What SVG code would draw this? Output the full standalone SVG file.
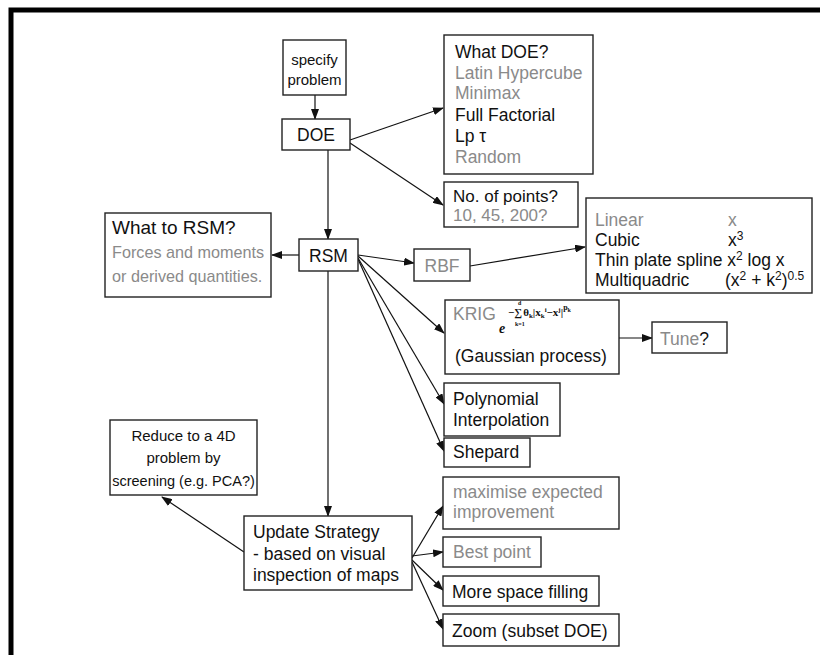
<svg xmlns="http://www.w3.org/2000/svg" width="820" height="655" viewBox="0 0 820 655">
<defs>
<marker id="ah" markerWidth="11" markerHeight="8" refX="10" refY="4" orient="auto" markerUnits="userSpaceOnUse">
<path d="M0,0 L11,4 L0,8 z" fill="#111"/>
</marker>
<style>
.box{fill:#fff;stroke:#222;stroke-width:1.4}
.t{font-family:"Liberation Sans",Arial,sans-serif;font-size:17.5px;fill:#111}
.s{font-size:15px}
.g{fill:#8a8a8a}
.k{fill:#111}
.c{text-anchor:middle}
.sup{font-size:12px}
.m{font-family:"Liberation Serif","Times New Roman",serif;font-weight:bold;fill:#111}
.ln{fill:none;stroke:#111;stroke-width:1.2;marker-end:url(#ah)}
</style>
</defs>
<rect width="820" height="655" fill="#fff"/>
<path d="M11,655 V10 H820" fill="none" stroke="#000" stroke-width="5"/>

<g id="connectors">
<path class="ln" d="M315,95 V119"/>
<path class="ln" d="M350,140 L443,108"/>
<path class="ln" d="M350,143 L443,205"/>
<path class="ln" d="M328,150 V239"/>
<path class="ln" d="M299,255 H272"/>
<path class="ln" d="M358,255 L414,263"/>
<path class="ln" d="M470,266 L585,247"/>
<path class="ln" d="M358,256 L444,333"/>
<path class="ln" d="M358,258 L444,404"/>
<path class="ln" d="M358,259 L444,451"/>
<path class="ln" d="M619,338 H652"/>
<path class="ln" d="M328,271 V516"/>
<path class="ln" d="M244,552 L162,497"/>
<path class="ln" d="M412,558 L443,506"/>
<path class="ln" d="M412,556 L443,552"/>
<path class="ln" d="M412,560 L443,590"/>
<path class="ln" d="M412,562 L443,629"/>
</g>

<g id="specify">
<rect class="box" x="283" y="40" width="63" height="55"/>
<text class="t s c" x="314.5" y="65">specify</text>
<text class="t s c" x="314.5" y="85">problem</text>
</g>

<g id="doe">
<rect class="box" x="282" y="119" width="68" height="31"/>
<text class="t c" x="316" y="141">DOE</text>
</g>

<g id="whatdoe">
<rect class="box" x="444" y="35" width="149" height="139"/>
<text class="t" x="455" y="58">What DOE?</text>
<text class="t g" x="455" y="79">Latin Hypercube</text>
<text class="t g" x="455" y="99">Minimax</text>
<text class="t" x="455" y="121">Full Factorial</text>
<text class="t" x="455" y="142">Lp τ</text>
<text class="t g" x="455" y="163">Random</text>
</g>

<g id="npoints">
<rect class="box" x="444" y="182" width="134" height="45"/>
<text class="t" x="453" y="202" style="font-size:17px">No. of points?</text>
<text class="t g" x="453" y="221" style="font-size:17px">10, 45, 200?</text>
</g>

<g id="whatrsm">
<rect class="box" x="105" y="213" width="166" height="84"/>
<text class="t" x="112" y="234" style="font-size:19px">What to RSM?</text>
<text class="t g" x="112" y="258" style="font-size:16.2px">Forces and moments</text>
<text class="t g" x="112" y="282" style="font-size:16.2px">or derived quantities.</text>
</g>

<g id="rsm">
<rect class="box" x="299" y="239" width="59" height="32"/>
<text class="t c" x="328.5" y="262">RSM</text>
</g>

<g id="rbf">
<rect class="box" x="414" y="249" width="56" height="32"/>
<text class="t g c" x="442" y="272">RBF</text>
</g>

<g id="basis">
<rect class="box" x="586" y="198" width="226" height="95"/>
<text class="t g" x="595" y="226">Linear</text>
<text class="t g" x="728" y="226">x</text>
<text class="t" x="595" y="246">Cubic</text>
<text class="t" x="728" y="246">x<tspan class="sup" dy="-6">3</tspan></text>
<text class="t" x="595" y="266">Thin plate spline x<tspan class="sup" dy="-6">2</tspan><tspan dy="6"> log x</tspan></text>
<text class="t" x="595" y="286">Multiquadric</text>
<text class="t" x="725" y="286">(x<tspan class="sup" dy="-6">2</tspan><tspan dy="6"> + k</tspan><tspan class="sup" dy="-6">2</tspan><tspan dy="6">)</tspan><tspan class="sup" dy="-6">0.5</tspan></text>
</g>

<g id="krig">
<rect class="box" x="445" y="300" width="174" height="74"/>
<text class="t g" x="453" y="320">KRIG</text>
<text class="m" x="499" y="333" style="font-size:14px;font-style:italic">e</text>
<text class="m" style="font-size:11px"><tspan x="508" y="316">−∑</tspan><tspan dx="1">θ</tspan><tspan dy="2" style="font-size:7px">k</tspan><tspan dy="-2">|x</tspan><tspan dy="2" style="font-size:7px">k</tspan><tspan dy="-6" style="font-size:7px">i</tspan><tspan dy="4">−x</tspan><tspan dy="-4" style="font-size:7px">j</tspan><tspan dy="4">|</tspan><tspan dy="-6" style="font-size:8px">p</tspan><tspan dy="2" style="font-size:6px">k</tspan></text>
<text class="m" x="515" y="326" style="font-size:6px">k=1</text>
<text class="m" x="518" y="305" style="font-size:6px">d</text>
<text class="t" x="455" y="362">(Gaussian process)</text>
</g>

<g id="tune">
<rect class="box" x="652" y="322" width="75" height="31"/>
<text class="t" x="660" y="345"><tspan class="g">Tune</tspan><tspan class="k">?</tspan></text>
</g>

<g id="poly">
<rect class="box" x="444" y="383" width="116" height="53"/>
<text class="t" x="453" y="405">Polynomial</text>
<text class="t" x="453" y="426">Interpolation</text>
</g>

<g id="shepard">
<rect class="box" x="444" y="438" width="86" height="29"/>
<text class="t" x="453" y="458">Shepard</text>
</g>

<g id="reduce">
<rect class="box" x="110" y="420" width="147" height="75"/>
<text class="t c" x="183.5" y="441" style="font-size:15px">Reduce to a 4D</text>
<text class="t c" x="183.5" y="463" style="font-size:15px">problem by</text>
<text class="t c" x="183.5" y="486" style="font-size:14.5px">screening (e.g. PCA?)</text>
</g>

<g id="update">
<rect class="box" x="244" y="516" width="168" height="74"/>
<text class="t" x="253" y="538">Update Strategy</text>
<text class="t" x="253" y="560">- based on visual</text>
<text class="t" x="253" y="581">inspection of maps</text>
</g>

<g id="maximise">
<rect class="box" x="443" y="477" width="176" height="52"/>
<text class="t g" x="453" y="498">maximise expected</text>
<text class="t g" x="453" y="518">improvement</text>
</g>

<g id="best">
<rect class="box" x="443" y="537" width="98" height="30"/>
<text class="t g" x="453" y="558">Best point</text>
</g>

<g id="spacefill">
<rect class="box" x="443" y="576" width="156" height="30"/>
<text class="t" x="452" y="598">More space filling</text>
</g>

<g id="zoom">
<rect class="box" x="443" y="614" width="176" height="32"/>
<text class="t" x="452" y="637">Zoom (subset DOE)</text>
</g>
</svg>
